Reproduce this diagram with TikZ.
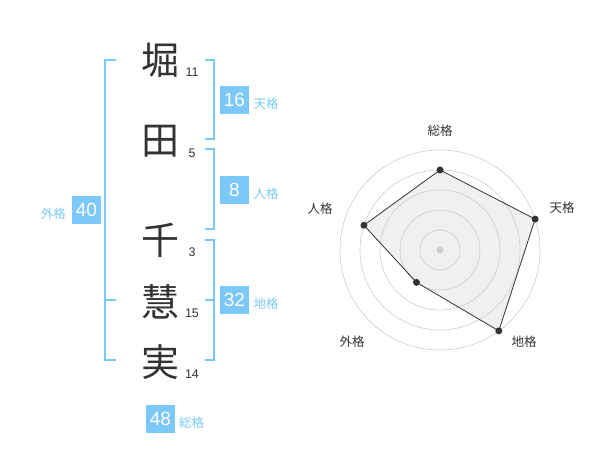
\documentclass[tikz,border=0pt]{standalone}
\usepackage{fontspec}
\setmainfont{Liberation Sans}
\newfontfamily\jp{Noto Sans CJK JP}
\definecolor{kaku}{HTML}{7CC8F8}
\definecolor{ink}{HTML}{333333}
\definecolor{ring}{HTML}{CCCCCC}
\definecolor{area}{HTML}{F0F0F0}
\tikzset{
  kanji/.style={font=\jp\fontsize{38}{38}\selectfont, text=ink, inner sep=0pt},
  strokes/.style={font=\fontsize{12.5}{12.5}\selectfont, text=ink, inner sep=0pt},
  kakubox/.style={fill=kaku, text=white, font=\fontsize{19}{19}\selectfont, minimum width=29pt, minimum height=28.5pt, inner sep=0pt},
  kakuname/.style={font=\jp\fontsize{12.5}{12.5}\selectfont, text=kaku, inner sep=0pt},
  brace/.style={draw=kaku, line width=2pt},
  axislabel/.style={font=\jp\fontsize{12.5}{12.5}\selectfont, text=ink, inner sep=0pt},
}
\begin{document}
\begin{tikzpicture}[x=1pt,y=-1pt]
        \useasboundingbox (0,0) rectangle (600,470);
        \foreach \k/\c/\y/\n in {1/堀/60/11, 2/田/141.7/5, 3/千/240/3, 4/慧/301.7/15, 5/実/361.7/14} {
            \node[kanji] (k\k) at (160, \y) {\c};
            \node[strokes] (s\k) at (192, \y+12) {\n};
        }
        \draw[brace] (116,60) -- (105,60) -- (105,360) -- (116,360);
        \draw[brace] (105,300) -- (116,300);
        \draw[brace] (205,60) -- (214,60) -- (214,139.5) -- (205,139.5);
        \draw[brace] (205,149.5) -- (214,149.5) -- (214,229.5) -- (205,229.5);
        \draw[brace] (205,240) -- (214,240) -- (214,360) -- (205,360);
        \draw[brace] (205,300) -- (214,300);
        \node[kakubox] (ten) at (234.5, 100) {16};
        \node[kakuname] at (266, 104) {天格};
        \node[kakubox] (jin) at (234.5, 190) {8};
        \node[kakuname] at (266, 194) {人格};
        \node[kakubox] (gai) at (86.5, 210) {40};
        \node[kakuname] at (53.3, 214) {外格};
        \node[kakubox] (chi) at (234.5, 300) {32};
        \node[kakuname] at (266, 304) {地格};
        \node[kakubox] (so) at (160.5, 419) {48};
        \node[kakuname] at (191.7, 422.7) {総格};
        \begin{scope}[shift={(440,250)}, yscale=-1]
            \foreach \name/\ang/\r in {so/90/80, ten/18/100, chi/-54/100, gai/-126/40, jin/162/80}
                \coordinate (p-\name) at (\ang:\r);
            \fill[area] (p-so) -- (p-ten) -- (p-chi) -- (p-gai) -- (p-jin) -- cycle;
            \foreach \r in {20,40,...,100}
                \draw[ring, line width=0.6pt] (0,0) circle (\r);
            \fill[ring] (0,0) circle (3.5);
            \draw[ink, line width=0.8pt] (p-so) -- (p-ten) -- (p-chi) -- (p-gai) -- (p-jin) -- cycle;
            \foreach \name in {so,ten,chi,gai,jin}
                \fill[ink] (p-\name) circle (3.5);
        \end{scope}
        \node[axislabel] (a-so) at (440, 131) {総格};
        \node[axislabel] (a-ten) at (562, 208) {天格};
        \node[axislabel] (a-chi) at (524, 342) {地格};
        \node[axislabel] (a-gai) at (352, 342) {外格};
        \node[axislabel] (a-jin) at (320, 209) {人格};
\end{tikzpicture}
\end{document}
